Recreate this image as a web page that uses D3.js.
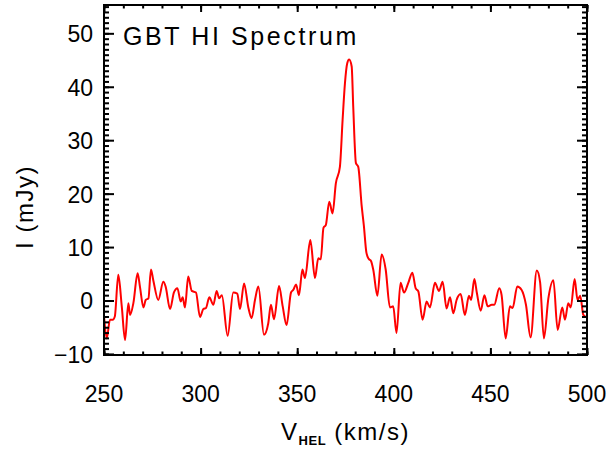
<!DOCTYPE html>
<html>
<head>
    <meta charset="utf-8">
    <script src="https://d3js.org/d3.v7.min.js"></script>
    <style>
        body { margin: 0; background: #fff; }
        text { font-family: "Liberation Sans", Arial, sans-serif; fill: #000; }
    </style>
</head>
<body>
<div id="chart"></div>
<script>

    // spectrum: heliocentric velocity (km/s) and flux (mJy)
    var velocity = [250, 251.4, 253.1, 254.5, 255.6, 257.4, 259.2, 260.9, 262.6, 263.5, 265.2, 267.4, 268.6, 270.4, 271.6, 273,
        274.3, 275.5, 278.1, 280.7, 281.9, 284.2, 286.2, 288, 289.7, 290.7, 291.9, 293.6, 295.4, 297.6, 299.7, 301.4,
        302.8, 304.5, 306.6, 308.3, 309.6, 311, 314, 316.9, 319, 320.4, 322.5, 324.7, 326.4, 328.2, 329.9, 332.8,
        335, 336.4, 338, 340.6, 342.5, 344.5, 346.8, 348, 349.4, 350.9, 352.7, 354, 356.8, 359.2, 360.9, 362.2,
        363.6, 364.8, 366.6, 368.3, 370, 372.1, 373.5, 374.7, 375.9, 376.9, 378.2, 379, 380.4, 381.6, 383.4, 384.5,
        385.8, 387, 388.2, 389.4, 391.5, 393.7, 395.8, 398, 399.7, 401.4, 403.5, 405.3, 407.5, 409.6, 411.3, 412.7,
        414.9, 417, 418.7, 421.3, 423.4, 425.3, 427.3, 429.1, 430.8, 432.5, 434.6, 436.8, 438.9, 440, 441.7, 443,
        445, 446.9, 448.6, 450.7, 452, 454.6, 455.8, 457.9, 460.1, 461.5, 463.9, 466.1, 468.4, 470.8, 474, 475.7,
        477.7, 480, 482.6, 484.8, 487.2, 488.6, 490.3, 491.6, 493.6, 495.1, 496.5, 498.1, 500];

    var flux = [-2.8, -7.1, -3.6, -3.6, -3.0, 4.8, -1.1, -7.4, -0.5, -2.7, -0.5, 5.1, 2.6, -1.3, 0.1, 0.4,
        5.8, 3.8, 0.1, 3.5, 2.6, -1.6, 1.5, 2.3, -0.2, 0.6, -1.3, 4.5, 1.8, 1.5, -3.1, -1.6,
        -1.4, 0.6, -0.8, 1.8, 0.4, 1.0, -6.6, 1.5, 1.3, -1.6, 3.2, -1.3, -3.3, 0.2, 2.6, -6.4,
        -4.3, -0.8, -3.5, 2.7, -1.1, -4.6, 1.5, 2.0, 3.0, 1.0, 5.8, 4.2, 11.3, 4.2, 7.9, 7.7,
        13.6, 14.1, 18.5, 16.3, 21.9, 25.0, 33.8, 40.6, 44.4, 45.1, 43.8, 36.3, 25.7, 25.0, 17.6, 14.0,
        9.0, 7.8, 7.4, 5.7, 0.9, 8.6, 5.8, -1.3, -1.1, -6.1, 3.3, 1.5, 3.3, 5.2, 2.3, 1.7,
        -3.6, -0.2, -1.3, 3.3, 1.8, 3.5, -1.5, 0.6, -2.4, 0.1, 1.2, -2.7, 0.9, 0.1, 4.0, 1.4,
        -1.9, 1.0, -1.1, -0.8, -0.8, 2.3, 1.0, -7.1, -1.1, -1.4, 2.6, 2.0, -0.8, -6.9, 5.6, 3.5,
        -7.1, 0.4, 3.8, -5.5, -1.3, -3.6, -0.5, -1.3, 4.0, 0.1, 0.9, -2.7, -3.2];

    var xTicks = [250, 300, 350, 400, 450, 500];
    var yTicks = [-10, 0, 10, 20, 30, 40, 50];

    var W = 610, H = 450;
    var margin = { top: 5, right: 23, bottom: 95, left: 104 },
        width = W - margin.left - margin.right,
        height = H - margin.top - margin.bottom;

    var svg = d3.select("#chart")
        .append("svg")
        .attr("width", W)
        .attr("height", H);

    var g = svg.append("g")
        .attr("transform", "translate(" + margin.left + "," + margin.top + ")");

    var x = d3.scaleLinear().domain([250, 500]).range([0, width]);
    var y = d3.scaleLinear().domain([-10.2, 55.3]).range([height, 0]);

    g.append("clipPath").attr("id", "clip")
        .append("rect").attr("width", width).attr("height", height);

    // the spectrum
    var data = velocity.map(function (v, i) { return [v, flux[i]]; });
    var line = d3.line()
        .x(function (d) { return x(d[0]); })
        .y(function (d) { return y(d[1]); })
        .curve(d3.curveMonotoneX);

    g.append("path")
        .datum(data)
        .attr("clip-path", "url(#clip)")
        .attr("fill", "none")
        .attr("stroke", "#ff0000")
        .attr("stroke-width", 2)
        .attr("d", line);

    // IDL style axes: ticks inside on all four sides
    var xMinor = d3.range(250, 501, 10);
    var yMinor = d3.range(-10, 56, 1);

    function axisStyle(sel) {
        sel.select(".domain").remove();
        sel.selectAll(".tick line").attr("stroke", "#000").attr("stroke-width", 2);
    }

    g.append("g").attr("transform", "translate(0," + height + ")")
        .call(d3.axisTop(x).tickValues(xMinor).tickSize(3.5).tickFormat(""))
        .call(axisStyle);
    g.append("g").attr("transform", "translate(0," + height + ")")
        .call(d3.axisTop(x).tickValues(xTicks).tickSize(7).tickFormat(""))
        .call(axisStyle);
    g.append("g")
        .call(d3.axisBottom(x).tickValues(xMinor).tickSize(3.5).tickFormat(""))
        .call(axisStyle);
    g.append("g")
        .call(d3.axisBottom(x).tickValues(xTicks).tickSize(7).tickFormat(""))
        .call(axisStyle);

    g.append("g")
        .call(d3.axisRight(y).tickValues(yMinor).tickSize(5).tickFormat(""))
        .call(axisStyle);
    g.append("g")
        .call(d3.axisRight(y).tickValues(yTicks).tickSize(10).tickFormat(""))
        .call(axisStyle);
    g.append("g").attr("transform", "translate(" + width + ",0)")
        .call(d3.axisLeft(y).tickValues(yMinor).tickSize(5).tickFormat(""))
        .call(axisStyle);
    g.append("g").attr("transform", "translate(" + width + ",0)")
        .call(d3.axisLeft(y).tickValues(yTicks).tickSize(10).tickFormat(""))
        .call(axisStyle);

    // tick labels
    g.selectAll(".xlab")
        .data(xTicks)
        .enter().append("text")
        .attr("x", function (d) { return x(d); })
        .attr("y", height + 47)
        .attr("text-anchor", "middle")
        .style("font-size", "23px")
        .text(function (d) { return d; });

    g.selectAll(".ylab")
        .data(yTicks)
        .enter().append("text")
        .attr("x", -11)
        .attr("y", function (d) { return y(d) + 9; })
        .attr("text-anchor", "end")
        .style("font-size", "23px")
        .text(function (d) { return d < 0 ? "\u2212" + Math.abs(d) : d; });

    // frame
    g.append("rect")
        .attr("width", width)
        .attr("height", height)
        .attr("fill", "none")
        .attr("stroke", "#000")
        .attr("stroke-width", 2);

    // titles
    g.append("text")
        .attr("x", 19)
        .attr("y", 40)
        .style("font-size", "25px")
        .style("letter-spacing", "2.6px")
        .text("GBT HI Spectrum");

    var xt = g.append("text")
        .attr("x", width / 2)
        .attr("y", height + 85)
        .attr("text-anchor", "middle")
        .style("font-size", "24px")
        .style("letter-spacing", "1.5px");
    xt.append("tspan").text("V");
    xt.append("tspan").attr("dy", 5).style("font-size", "13px").style("font-weight", "bold")
        .style("letter-spacing", "0.5px").text("HEL");
    xt.append("tspan").attr("dy", -5).text(" (km/s)");

    svg.append("text")
        .attr("transform", "translate(33," + 207 + ") rotate(-90)")
        .attr("text-anchor", "middle")
        .style("font-size", "24px")
        .style("letter-spacing", "1.5px")
        .text("I (mJy)");

</script>
</body>
</html>
